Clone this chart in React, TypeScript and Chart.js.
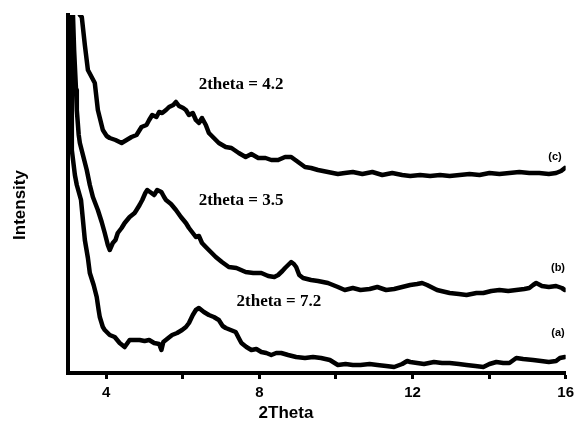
import React, { useEffect, useRef } from "react";
import { Chart, registerables } from "chart.js";

Chart.register(...registerables);

// 2Theta values and intensities (arbitrary units)
const thetaA = [3.03, 3.05, 3.08, 3.10, 3.10, 3.18, 3.23, 3.34, 3.44, 3.52, 3.57, 3.67, 3.75, 3.80, 3.83, 3.91, 3.96, 4.09, 4.22, 4.35, 4.48, 4.61, 4.74, 4.87, 5.00, 5.12, 5.25, 5.38, 5.44, 5.49, 5.62, 5.72, 5.85, 5.98, 6.08, 6.16, 6.26, 6.34, 6.42, 6.55, 6.68, 6.81, 6.94, 7.04, 7.12, 7.25, 7.38, 7.46, 7.53, 7.66, 7.79, 7.92, 8.05, 8.18, 8.31, 8.44, 8.57, 8.75, 8.96, 9.19, 9.40, 9.61, 9.84, 10.05, 10.25, 10.44, 10.64, 10.88, 11.08, 11.31, 11.52, 11.73, 11.86, 11.94, 12.12, 12.30, 12.56, 12.77, 12.97, 13.21, 13.41, 13.64, 13.85, 14.01, 14.19, 14.37, 14.53, 14.71, 14.89, 15.15, 15.36, 15.56, 15.75, 15.85, 15.98];
const intensityA = [383, 358, 313, 263, 223, 198, 188, 173, 133, 115, 100, 88, 76, 63, 56, 46, 43, 38, 36, 30, 26, 33, 33, 33, 32, 33, 30, 29, 23, 31, 35, 38, 40, 43, 46, 50, 58, 63, 65, 61, 58, 56, 53, 47, 45, 43, 41, 35, 30, 26, 23, 24, 21, 20, 18, 20, 20, 18, 16, 15, 16, 15, 13, 8, 9, 8, 8, 9, 8, 7, 6, 9, 12, 11, 10, 9, 11, 10, 10, 9, 8, 7, 6, 9, 11, 10, 10, 15, 14, 13, 12, 11, 12, 15, 16];

const thetaB = [3.08, 3.13, 3.16, 3.21, 3.23, 3.28, 3.31, 3.39, 3.49, 3.57, 3.65, 3.78, 3.88, 3.96, 4.04, 4.09, 4.17, 4.24, 4.30, 4.40, 4.48, 4.61, 4.74, 4.79, 4.87, 4.94, 5.02, 5.07, 5.18, 5.25, 5.33, 5.44, 5.51, 5.56, 5.69, 5.82, 5.95, 6.08, 6.16, 6.26, 6.34, 6.42, 6.50, 6.60, 6.73, 6.86, 7.02, 7.20, 7.40, 7.64, 7.84, 8.05, 8.23, 8.39, 8.49, 8.60, 8.67, 8.75, 8.83, 8.90, 8.96, 9.04, 9.14, 9.35, 9.53, 9.79, 10.05, 10.23, 10.44, 10.64, 10.88, 11.08, 11.31, 11.52, 11.73, 11.94, 12.12, 12.25, 12.38, 12.64, 12.97, 13.21, 13.41, 13.67, 13.85, 14.06, 14.27, 14.50, 14.71, 14.92, 15.05, 15.15, 15.23, 15.38, 15.56, 15.75, 15.90, 15.98];
const intensityB = [383, 358, 323, 283, 263, 238, 230, 218, 203, 188, 176, 163, 151, 140, 128, 123, 130, 133, 140, 145, 150, 156, 160, 163, 168, 173, 180, 183, 180, 178, 183, 181, 176, 173, 169, 163, 156, 150, 145, 140, 136, 137, 130, 126, 121, 116, 111, 106, 105, 101, 100, 100, 97, 96, 98, 102, 105, 108, 111, 109, 106, 98, 95, 93, 92, 90, 86, 83, 85, 83, 84, 86, 83, 84, 86, 88, 89, 90, 88, 83, 80, 79, 78, 80, 80, 82, 83, 82, 83, 84, 85, 88, 90, 87, 86, 87, 85, 83];

const thetaC = [3.26, 3.31, 3.36, 3.44, 3.52, 3.70, 3.78, 3.91, 4.01, 4.09, 4.24, 4.40, 4.53, 4.66, 4.79, 4.92, 5.05, 5.12, 5.20, 5.31, 5.38, 5.46, 5.56, 5.64, 5.75, 5.82, 5.90, 6.01, 6.08, 6.16, 6.26, 6.34, 6.42, 6.50, 6.60, 6.68, 6.81, 6.94, 7.12, 7.27, 7.46, 7.64, 7.79, 7.97, 8.16, 8.31, 8.49, 8.67, 8.83, 9.01, 9.19, 9.35, 9.53, 9.79, 10.05, 10.23, 10.44, 10.69, 10.95, 11.21, 11.47, 11.73, 11.94, 12.20, 12.46, 12.72, 12.97, 13.23, 13.49, 13.75, 14.01, 14.27, 14.53, 14.79, 15.05, 15.31, 15.56, 15.75, 15.88, 15.98];
const intensityC = [383, 358, 356, 328, 303, 290, 263, 243, 237, 235, 233, 230, 233, 236, 238, 246, 248, 253, 258, 256, 261, 260, 263, 266, 268, 271, 267, 265, 263, 258, 260, 253, 250, 255, 248, 240, 235, 230, 226, 225, 220, 216, 219, 215, 215, 213, 213, 216, 216, 211, 206, 205, 203, 201, 199, 200, 201, 199, 201, 198, 200, 198, 197, 198, 197, 198, 197, 198, 199, 198, 200, 199, 200, 201, 200, 200, 199, 200, 202, 205];

const xTickValues = [4, 6, 8, 10, 12, 14, 16];
const xTickLabels = ["4", "", "8", "", "12", "", "16"];

const noteTexts = ["2theta = 4.2", "2theta = 3.5", "2theta = 7.2", "(c)", "(b)", "(a)"];
const noteX = [7.52, 7.52, 8.51, 15.72, 15.8, 15.8];
const noteY = [288.5, 172, 71, 216, 105, 40];

const toPoints = (xs: number[], ys: number[]) => xs.map((x, i) => ({ x, y: ys[i] }));

export default function App() {
  const ref = useRef<HTMLCanvasElement | null>(null);

  useEffect(() => {
    document.body.style.margin = "0";
    const canvas = ref.current;
    if (!canvas) return;

    const notesPlugin = {
      id: "notes",
      afterDatasetsDraw(chart: any) {
        const ctx = chart.ctx;
        const xs = chart.scales.x;
        const ys = chart.scales.y;
        ctx.save();
        ctx.fillStyle = "#000";
        ctx.textAlign = "center";
        ctx.textBaseline = "middle";
        noteTexts.forEach((t, i) => {
          ctx.font = t.startsWith("(")
            ? "bold 11px 'Liberation Sans', Arial, sans-serif"
            : "bold 17px 'Liberation Serif', 'Times New Roman', serif";
          ctx.fillText(t, xs.getPixelForValue(noteX[i]), ys.getPixelForValue(noteY[i]));
        });
        // axis titles
        ctx.font = "bold 17px 'Liberation Sans', Arial, sans-serif";
        ctx.fillText("2Theta", 286, 413);
        ctx.translate(20.5, 205);
        ctx.rotate(-Math.PI / 2);
        ctx.fillText("Intensity", 0, 0);
        ctx.restore();
      },
    };

    const chart = new Chart(canvas, {
      type: "line",
      data: {
        datasets: [
          { label: "(a)", data: toPoints(thetaA, intensityA) },
          { label: "(b)", data: toPoints(thetaB, intensityB) },
          { label: "(c)", data: toPoints(thetaC, intensityC) },
        ].map((d) => ({
          ...d,
          borderColor: "#000",
          borderWidth: 4.5,
          pointRadius: 0,
          tension: 0,
          fill: false,
          borderJoinStyle: "round" as const,
          borderCapStyle: "round" as const,
        })),
      },
      options: {
        animation: false,
        responsive: false,
        devicePixelRatio: 1,
        layout: { padding: { top: 15, right: 9, left: 0, bottom: 0 } },
        plugins: { legend: { display: false }, tooltip: { enabled: false } },
        scales: {
          x: {
            type: "linear",
            min: 3,
            max: 16,
            afterBuildTicks: (scale: any) => {
              scale.ticks = xTickValues.map((v) => ({ value: v }));
            },
            afterFit: (scale: any) => {
              scale.height = 49;
            },
            ticks: {
              color: "#000",
              padding: 5,
              maxRotation: 0,
              autoSkip: false,
              font: { family: "'Liberation Sans', Arial, sans-serif", size: 15, weight: "bold" },
              callback: (v: any) => {
                const i = xTickValues.indexOf(Number(v));
                return i >= 0 ? xTickLabels[i] : "";
              },
            },
            grid: {
              drawOnChartArea: false,
              drawTicks: true,
              tickLength: 6,
              tickWidth: 3,
              tickColor: "#000",
            },
            border: { display: true, color: "#000", width: 4 },
          },
          y: {
            type: "linear",
            min: 0,
            max: 358,
            afterFit: (scale: any) => {
              scale.width = 68;
            },
            ticks: { display: false },
            grid: { drawOnChartArea: false, drawTicks: false },
            border: { display: true, color: "#000", width: 4 },
          },
        },
      },
      plugins: [notesPlugin],
    });

    return () => chart.destroy();
  }, []);

  return (
    <div style={{ position: "absolute", left: 0, top: 0, width: 579, height: 422, background: "#fff" }}>
      <canvas ref={ref} width={579} height={422} />
    </div>
  );
}
